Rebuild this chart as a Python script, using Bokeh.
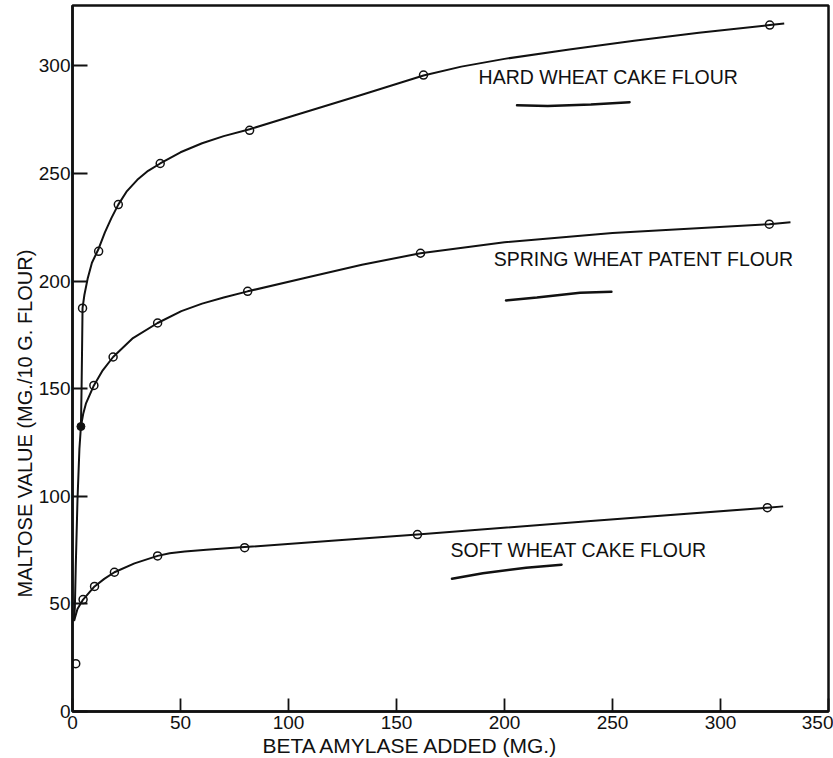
from bokeh.plotting import figure
from bokeh.models import Range1d, Label, FixedTicker, Title
from bokeh.embed import file_html
from bokeh.resources import INLINE

# ---- data ----
x_ticks = [0, 50, 100, 150, 200, 250, 300, 350]
y_ticks = [0, 50, 100, 150, 200, 250, 300]

# measured points (beta amylase added, mg ; maltose value mg/10 g flour)
hard_dose = [4.65, 12.1, 21.2, 40.6, 82.0, 162.5, 322.8]
hard_maltose = [187.4, 213.8, 235.5, 254.6, 270.0, 295.7, 318.9]

spring_dose = [9.9, 18.8, 39.4, 81.1, 161.1, 322.6]
spring_maltose = [151.5, 164.7, 180.5, 195.2, 212.9, 226.4]
spring_filled_dose = [3.9]
spring_filled_maltose = [132.4]

soft_dose = [1.5, 4.9, 10.2, 19.4, 39.4, 79.7, 159.7, 321.7]
soft_maltose = [22.2, 52.0, 58.1, 64.7, 72.3, 76.1, 82.2, 94.7]

# hand-drawn curves
hard_curve_x = [0.7, 1.1, 1.5, 2.3, 3.2, 3.9, 4.2, 4.45, 4.65, 5.5, 7, 9, 12.1, 15, 18,
                21.2, 25, 30, 35, 40.6, 50, 60, 70, 82, 103, 134, 162.5, 180, 200, 230,
                260, 290, 322.8, 329.5]
hard_curve_y = [42, 48.4, 67, 98, 122, 132.4, 150, 170, 187.4, 193.5, 201, 208.5, 215,
                222.6, 229.2, 235.5, 241.5, 247, 251.2, 254.6, 259.8, 264, 267.3, 270.5,
                277, 286.5, 295.5, 299.6, 303.2, 307.6, 311.6, 315.3, 318.9, 319.6]

spring_curve_x = [3.9, 5, 6.2, 9.9, 14, 18.8, 28, 39.4, 50.4, 60, 70, 81.1, 110, 134,
                  161.1, 200, 250, 322.6, 332.4]
spring_curve_y = [132.4, 138.5, 143, 151.5, 158.5, 164.7, 173.5, 180.5, 186.0, 189.5,
                  192.3, 195.2, 202, 207.6, 212.9, 218, 222.3, 226.4, 227.3]

soft_curve_x = [0.75, 2.3, 4.9, 10.2, 14.7, 19.4, 28.7, 39.4, 45, 52, 62, 79.7, 120,
                159.7, 240, 321.7, 329]
soft_curve_y = [42.2, 47.6, 52.0, 58.1, 61.6, 64.7, 68.8, 72.3, 73.5, 74.3, 75.1, 76.4,
                79.3, 82.2, 88.5, 94.7, 95.3]

series_names = ["HARD WHEAT CAKE FLOUR", "SPRING WHEAT PATENT FLOUR", "SOFT WHEAT CAKE FLOUR"]
name_x = [188, 195, 175]
name_y = [294.7, 210.0, 75.2]

# hand-drawn key strokes beneath each name
hard_key_x = [205.8, 220, 240, 257.9]
hard_key_y = [281.6, 281.3, 282.0, 283.1]
spring_key_x = [200.7, 215, 235, 249.5]
spring_key_y = [191.0, 192.3, 194.5, 195.0]
soft_key_x = [175.7, 190, 210, 226.4]
soft_key_y = [61.7, 64.2, 66.8, 68.2]

x_label = "BETA AMYLASE ADDED (MG.)"
y_label = "MALTOSE VALUE (MG./10 G. FLOUR)"

FONT = "Liberation Sans"
INK = "#111111"

p = figure(width=833, height=758, output_backend="svg", toolbar_location=None,
           x_range=Range1d(0, 350), y_range=Range1d(0, 328))
p.min_border_left = 72
p.min_border_right = 5
p.min_border_top = 5
p.min_border_bottom = 47
p.background_fill_color = "white"
p.border_fill_color = "white"
p.outline_line_color = INK
p.outline_line_width = 2.5
p.xgrid.visible = False
p.ygrid.visible = False

for ax in (p.xaxis[0], p.yaxis[0]):
    ax.axis_line_color = INK
    ax.axis_line_width = 2.5
    ax.major_tick_line_color = INK
    ax.major_tick_line_width = 1.8
    ax.major_tick_out = 0
    ax.minor_tick_line_color = None
    ax.major_label_text_font = FONT
    ax.major_label_text_font_size = "19px"
    ax.major_label_text_color = INK

p.xaxis.ticker = FixedTicker(ticks=x_ticks)
p.yaxis.ticker = FixedTicker(ticks=y_ticks)
p.xaxis.major_tick_in = 13
p.yaxis.major_tick_in = 15
p.xaxis.major_label_standoff = 4
p.yaxis.major_label_standoff = 2

# curves
for cx, cy in ((hard_curve_x, hard_curve_y), (spring_curve_x, spring_curve_y),
               (soft_curve_x, soft_curve_y)):
    p.line(cx, cy, line_color=INK, line_width=2, line_join="round")

# points
for dx, dy in ((hard_dose, hard_maltose), (spring_dose, spring_maltose),
               (soft_dose, soft_maltose)):
    p.scatter(dx, dy, marker="circle", size=8, fill_color=None,
              line_color=INK, line_width=1.5)
p.scatter(spring_filled_dose, spring_filled_maltose, marker="circle", size=8,
          fill_color=INK, line_color=INK)

# names and key strokes
for t, tx, ty in zip(series_names, name_x, name_y):
    p.add_layout(Label(x=tx, y=ty, text=t, text_font=FONT, text_font_size="19.5px",
                       text_color=INK, text_baseline="middle", text_align="left"))
for kx, ky in ((hard_key_x, hard_key_y), (spring_key_x, spring_key_y),
               (soft_key_x, soft_key_y)):
    p.line(kx, ky, line_color=INK, line_width=2.5, line_cap="round")

# axis titles (offset from the frame's start, as in the reference)
p.add_layout(Title(text=x_label, align="left", offset=190, text_font=FONT,
                   text_font_size="21px", text_font_style="normal", text_color=INK,
                   standoff=0), "below")
p.add_layout(Title(text=y_label, align="left", offset=114, text_font=FONT,
                   text_font_size="20px", text_font_style="normal", text_color=INK,
                   standoff=0), "left")

open("out.html", "w").write(file_html(p, INLINE))
